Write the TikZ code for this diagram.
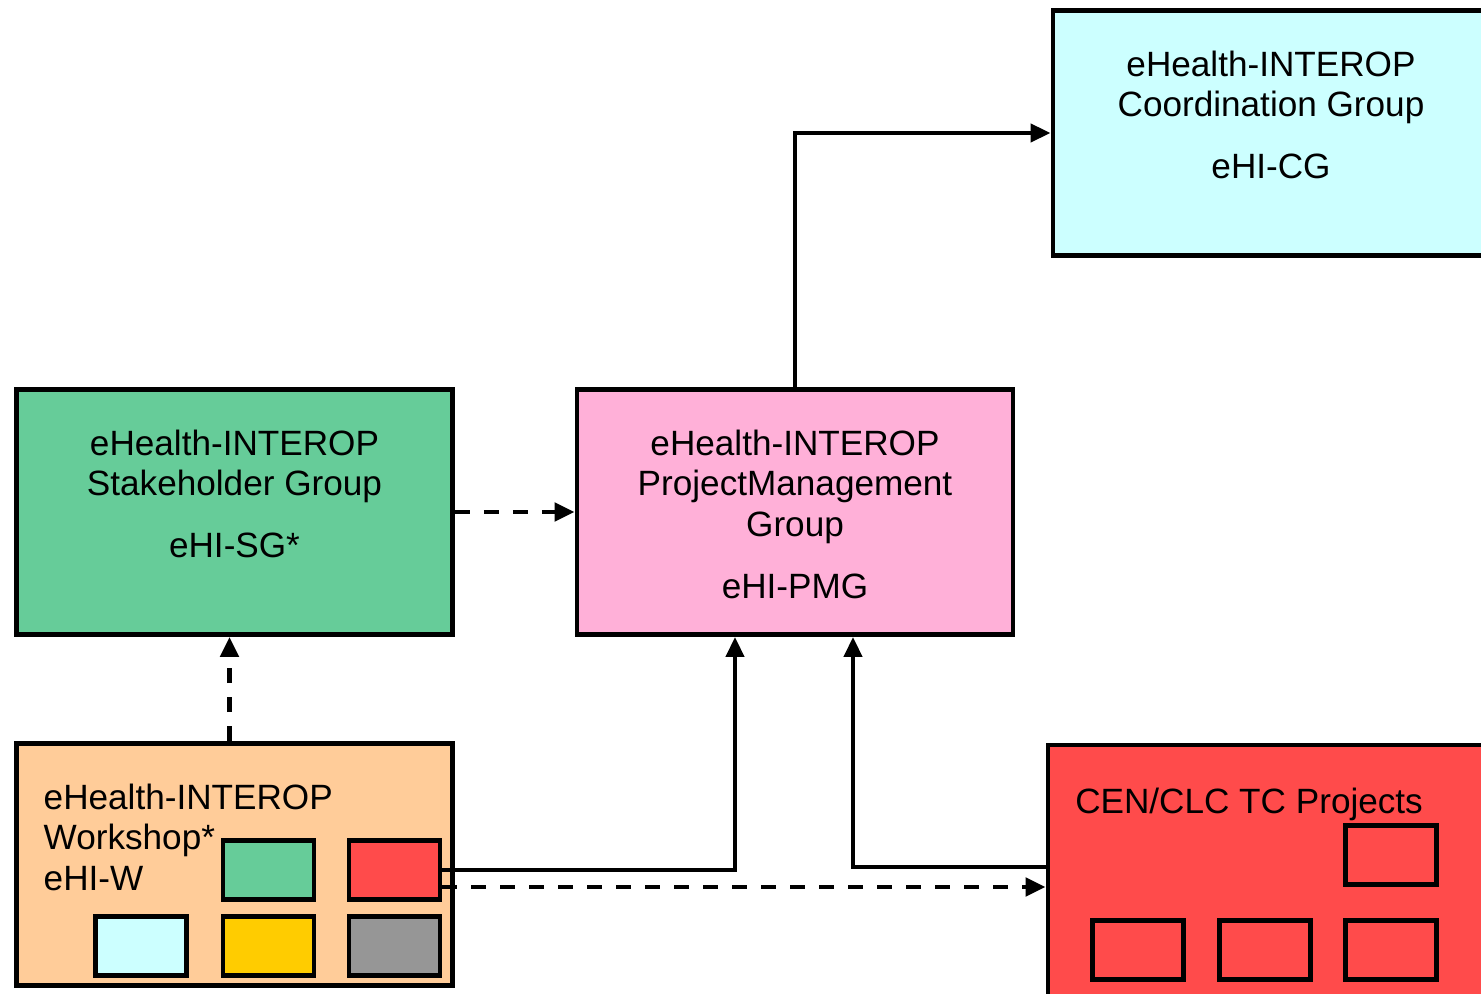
\documentclass[tikz,border=0pt]{standalone}
\usepackage{fontspec}
\setmainfont{Liberation Sans}
\usetikzlibrary{positioning,arrows.meta}
\definecolor{cgcyan}{RGB}{204,255,255}
\definecolor{sggreen}{RGB}{102,204,153}
\definecolor{pmgpink}{RGB}{255,176,216}
\definecolor{wpeach}{RGB}{255,204,153}
\definecolor{cenred}{RGB}{255,75,75}
\definecolor{wyellow}{RGB}{255,204,0}
\definecolor{wgray}{RGB}{150,150,150}
\tikzset{
  grp/.style={draw, line width=1.4pt, minimum width=4.36cm, minimum height=2.45cm, inner sep=0pt},
  sub/.style={draw, line width=1.3pt, minimum width=0.91cm, minimum height=0.59cm, inner sep=0pt},
  txt/.style={inner sep=0pt, align=center, font=\fontsize{10}{11.6}\selectfont},
  link/.style={line width=1.2pt, -{Triangle[length=0.2cm,width=0.18cm]}},
  dlink/.style={link, line width=1.4pt, dash pattern=on 0.15cm off 0.14cm},
}
\begin{document}
\begin{tikzpicture}
\useasboundingbox (0,0) rectangle (14.81,9.93);
% group boxes
\node[grp, fill=cgcyan] (cg) at (12.71,8.60) {};
\node[grp, fill=sggreen] (sg) at (2.345,4.81) {};
\node[grp, fill=pmgpink] (pmg) at (7.95,4.81) {};
\node[grp, fill=wpeach, minimum height=2.42cm] (ws) at (2.345,1.285) {};
\node[grp, fill=cenred, minimum width=4.5cm, minimum height=2.6cm] (cen) at (12.73,1.18) {};
% texts
\node[txt, below=0.42cm of cg.north] (cgtxt) {eHealth-INTEROP\\Coordination Group\\[6pt]eHI-CG};
\node[txt, below=0.42cm of sg.north] (sgtxt) {eHealth-INTEROP\\Stakeholder Group\\[6pt]eHI-SG*};
\node[txt, below=0.42cm of pmg.north] (pmgtxt) {eHealth-INTEROP\\ProjectManagement\\Group\\[6pt]eHI-PMG};
\node[txt, align=left, below right=0.42cm and 0.29cm of ws.north west] (wstxt) {eHealth-INTEROP\\Workshop*\\eHI-W};
\node[txt, below right=0.45cm and 0.29cm of cen.north west] (centxt) {CEN/CLC TC Projects};
% workshop members
\node[sub, fill=sggreen] (wsg) at (2.685,1.23) {};
\node[sub, fill=cenred] (wcen) at (3.945,1.23) {};
\node[sub, fill=cgcyan] (wcg) at (1.41,0.47) {};
\node[sub, fill=wyellow] (wyel) at (2.685,0.47) {};
\node[sub, fill=wgray] (wgr) at (3.945,0.47) {};
% TC projects
\node[sub, fill=cenred] (tc1) at (13.91,1.38) {};
\node[sub, fill=cenred] (tc2) at (11.38,0.43) {};
\node[sub, fill=cenred] (tc3) at (12.65,0.43) {};
\node[sub, fill=cenred] (tc4) at (13.91,0.43) {};
% connectors
\draw[link] (pmg.north) |- (cg.west);
\draw[dlink] (sg.east) -- (pmg.west);
\draw[dlink] ([xshift=-0.05cm]ws.north) -- ([xshift=-0.05cm]sg.south);
\draw[link] (wcen.east) -| ([xshift=-0.6cm]pmg.south);
\draw[link] ([yshift=0.08cm]cen.west) -| ([xshift=0.58cm]pmg.south);
\coordinate (dstart) at ([yshift=-0.17cm]wcen.east);
\draw[dlink] (dstart) -- (dstart -| cen.west);
\end{tikzpicture}
\end{document}
